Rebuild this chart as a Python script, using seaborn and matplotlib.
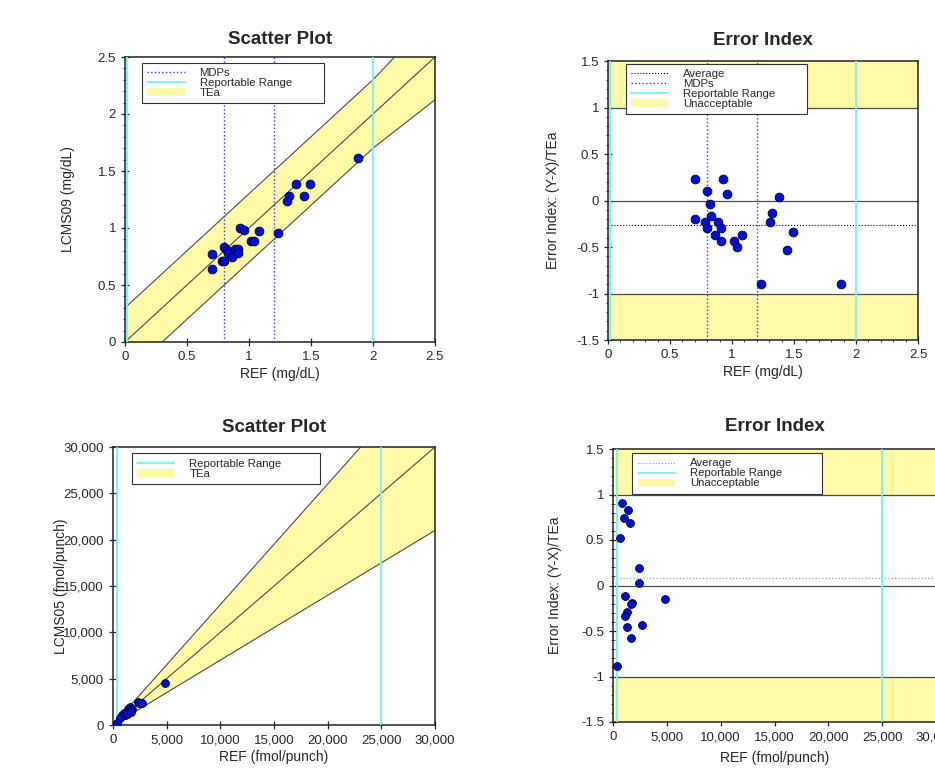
import numpy as np
import matplotlib
matplotlib.use("Agg")
import matplotlib.pyplot as plt
import seaborn as sns
from matplotlib.ticker import FuncFormatter, MultipleLocator
from matplotlib.lines import Line2D
from matplotlib.patches import Patch

# --- data ---
# top pair: LCMS09 vs REF (mg/dL)
ref_mg = [0.70, 0.93, 0.80, 0.96, 0.82, 1.38, 0.70, 0.83, 0.78, 0.89, 0.80, 0.91,
          0.86, 0.91, 1.02, 1.04, 1.08, 1.32, 1.31, 1.49, 1.44, 1.23, 1.88]
lcms09 = [0.77, 1.00, 0.83, 0.98, 0.81, 1.39, 0.64, 0.78, 0.71, 0.82, 0.71, 0.82,
          0.75, 0.78, 0.89, 0.89, 0.97, 1.28, 1.24, 1.39, 1.28, 0.96, 1.61]
# bottom pair: LCMS05 vs REF (fmol/punch)
ref_fmol = [813, 1370, 1060, 1620, 623, 2370, 2400, 1120, 4800, 1780, 1680, 1280,
            1150, 1340, 2710, 1710, 343]
lcms05 = [1033, 1713, 1295, 1955, 720, 2505, 2422, 1080, 4584, 1679, 1579, 1169,
          1033, 1155, 2360, 1412, 252]

tea_abs_mg = 0.3      # absolute TEa (mg/dL)
tea_pct_mg = 0.15     # proportional TEa
tea_pct_fmol = 0.30
mdps_mg = [0.8, 1.2]
rr_mg = [0.015, 2.0]
rr_fmol = [350, 25000]
avg_ei_mg = -0.26
avg_ei_fmol = 0.08

# error index = (Y - X) / TEa
x_mg = np.array(ref_mg)
ei_mg = (np.array(lcms09) - x_mg) / np.maximum(tea_abs_mg, tea_pct_mg * x_mg)
x_fm = np.array(ref_fmol)
ei_fmol = (np.array(lcms05) - x_fm) / (tea_pct_fmol * x_fm)

YELLOW = "#fffaa8"
CYAN = "#6ff5f5"
MDP_BLUE = "#2f3cff"
PT_BLUE = "#0010d8"
LINE_GREY = "#4a4a4a"

sns.set_style("ticks")
plt.rcParams['font.family'] = ['Liberation Sans', 'DejaVu Sans']
plt.rcParams['axes.edgecolor'] = "#222222"
plt.rcParams['axes.linewidth'] = 1.1

fig = plt.figure(figsize=(9.35, 7.69), dpi=100)
W, H = 935, 769


def make_ax(left, top, right, bottom):
    return fig.add_axes([left / W, (H - bottom) / H, (right - left) / W, (bottom - top) / H])


ax_tl = make_ax(125, 57, 435, 342)
ax_tr = make_ax(608, 61, 918, 340)
ax_bl = make_ax(113, 447, 435, 725)
ax_br = make_ax(613, 449, 936, 722)

gfmt = FuncFormatter(lambda v, p: f"{v:g}")
cfmt = FuncFormatter(lambda v, p: f"{v:,.0f}")


def style(ax):
    ax.tick_params(which='major', direction='inout', length=6, width=0.9, labelsize=9.5)
    ax.tick_params(which='minor', direction='inout', length=3, width=0.6)
    for s in ax.spines.values():
        s.set_visible(True)


def legend(ax, handles, labels, x, y):
    leg = ax.legend(handles, labels, loc='upper left', bbox_to_anchor=(x, y, 0.586, 0),
                    mode='expand', borderaxespad=0, fontsize=8.2, handlelength=3.3,
                    handletextpad=1.3, labelspacing=0.0, borderpad=0.45,
                    fancybox=False, framealpha=1, edgecolor='#333333')
    leg.get_frame().set_linewidth(0.8)
    leg.set_zorder(10)


h_avg = Line2D([], [], color='black', ls=':', lw=0.8)
h_mdp = Line2D([], [], color=MDP_BLUE, ls=':', lw=1.0)
h_rr = Line2D([], [], color=CYAN, lw=1.3)
h_fill = Patch(facecolor=YELLOW, edgecolor='none')

# ---- top left: scatter (mg/dL) ----
ax = ax_tl
xs = np.linspace(0, 2.5, 501)
tea = np.maximum(tea_abs_mg, tea_pct_mg * xs)
ax.fill_between(xs, xs - tea, xs + tea, color=YELLOW, lw=0, zorder=1)
for yy in (xs - tea, xs, xs + tea):
    ax.plot(xs, yy, color=LINE_GREY, lw=0.8, zorder=2)
for v in mdps_mg:
    ax.axvline(v, color=MDP_BLUE, ls=':', lw=1.0, zorder=3)
for v in rr_mg:
    ax.axvline(v, color=CYAN, lw=1.3, zorder=3)
sns.scatterplot(x=ref_mg, y=lcms09, ax=ax, color=PT_BLUE, edgecolor='#000033',
                s=40, linewidth=0.6, zorder=5, legend=False)
ax.set_xlim(0, 2.5)
ax.set_ylim(0, 2.5)
ax.xaxis.set_major_locator(MultipleLocator(0.5))
ax.yaxis.set_major_locator(MultipleLocator(0.5))
ax.yaxis.set_minor_locator(MultipleLocator(0.1))
ax.xaxis.set_major_formatter(gfmt)
ax.yaxis.set_major_formatter(gfmt)
style(ax)
ax.set_title("Scatter Plot", fontsize=13.5, fontweight='bold', pad=9)
ax.set_xlabel("REF (mg/dL)", fontsize=10)
ax.set_ylabel("LCMS09 (mg/dL)", fontsize=10)
ax.xaxis.set_label_coords(0.5, -0.088)
ax.yaxis.set_label_coords(-0.161, 0.5)
legend(ax, [h_mdp, h_rr, h_fill], ["MDPs", "Reportable Range", "TEa"], 0.055, 0.979)

# ---- top right: error index (mg/dL) ----
ax = ax_tr
ax.axhspan(1, 1.5, color=YELLOW, lw=0, zorder=1)
ax.axhspan(-1.5, -1, color=YELLOW, lw=0, zorder=1)
for v in (1, 0, -1):
    ax.axhline(v, color=LINE_GREY, lw=0.9, zorder=2)
ax.axhline(avg_ei_mg, color='black', ls=':', lw=0.8, zorder=2)
for v in mdps_mg:
    ax.axvline(v, color=MDP_BLUE, ls=':', lw=1.0, zorder=3)
for v in rr_mg:
    ax.axvline(v, color=CYAN, lw=1.3, zorder=3)
sns.scatterplot(x=ref_mg, y=ei_mg, ax=ax, color=PT_BLUE, edgecolor='#000033',
                s=40, linewidth=0.6, zorder=5, legend=False)
ax.set_xlim(0, 2.5)
ax.set_ylim(-1.5, 1.5)
ax.xaxis.set_major_locator(MultipleLocator(0.5))
ax.xaxis.set_minor_locator(MultipleLocator(0.1))
ax.yaxis.set_major_locator(MultipleLocator(0.5))
ax.yaxis.set_minor_locator(MultipleLocator(0.1))
ax.xaxis.set_major_formatter(gfmt)
ax.yaxis.set_major_formatter(gfmt)
style(ax)
ax.set_title("Error Index", fontsize=13.5, fontweight='bold', pad=11.5)
ax.set_xlabel("REF (mg/dL)", fontsize=10)
ax.set_ylabel("Error Index: (Y-X)/TEa", fontsize=10)
ax.xaxis.set_label_coords(0.5, -0.09)
ax.yaxis.set_label_coords(-0.155, 0.5)
legend(ax, [h_avg, h_mdp, h_rr, h_fill],
       ["Average", "MDPs", "Reportable Range", "Unacceptable"], 0.057, 0.989)

# ---- bottom left: scatter (fmol/punch) ----
ax = ax_bl
xs = np.linspace(0, 30000, 301)
ax.fill_between(xs, xs * (1 - tea_pct_fmol), xs * (1 + tea_pct_fmol), color=YELLOW, lw=0, zorder=1)
for k in (1 - tea_pct_fmol, 1, 1 + tea_pct_fmol):
    ax.plot(xs, xs * k, color=LINE_GREY, lw=0.8, zorder=2)
for v in rr_fmol:
    ax.axvline(v, color=CYAN, lw=1.3, zorder=3)
sns.scatterplot(x=ref_fmol, y=lcms05, ax=ax, color=PT_BLUE, edgecolor='#000033',
                s=32, linewidth=0.6, zorder=5, legend=False)
ax.set_xlim(0, 30000)
ax.set_ylim(0, 30000)
ax.xaxis.set_major_locator(MultipleLocator(5000))
ax.yaxis.set_major_locator(MultipleLocator(5000))
ax.xaxis.set_major_formatter(cfmt)
ax.yaxis.set_major_formatter(cfmt)
style(ax)
ax.set_title("Scatter Plot", fontsize=13.5, fontweight='bold', pad=10.5)
ax.set_xlabel("REF (fmol/punch)", fontsize=10)
ax.set_ylabel("LCMS05 (fmol/punch)", fontsize=10)
ax.xaxis.set_label_coords(0.5, -0.09)
ax.yaxis.set_label_coords(-0.14, 0.5)
legend(ax, [h_rr, h_fill], ["Reportable Range", "TEa"], 0.058, 0.977)

# ---- bottom right: error index (fmol/punch) ----
ax = ax_br
ax.axhspan(1, 1.5, color=YELLOW, lw=0, zorder=1)
ax.axhspan(-1.5, -1, color=YELLOW, lw=0, zorder=1)
for v in (1, 0, -1):
    ax.axhline(v, color=LINE_GREY, lw=0.9, zorder=2)
ax.axhline(avg_ei_fmol, color='#999999', ls=':', lw=0.9, zorder=2)
for v in rr_fmol:
    ax.axvline(v, color=CYAN, lw=1.3, zorder=3)
sns.scatterplot(x=ref_fmol, y=ei_fmol, ax=ax, color=PT_BLUE, edgecolor='#000033',
                s=32, linewidth=0.6, zorder=5, legend=False)
ax.set_xlim(0, 30000)
ax.set_ylim(-1.5, 1.5)
ax.xaxis.set_major_locator(MultipleLocator(5000))
ax.yaxis.set_major_locator(MultipleLocator(0.5))
ax.yaxis.set_minor_locator(MultipleLocator(0.1))
ax.xaxis.set_major_formatter(cfmt)
ax.yaxis.set_major_formatter(gfmt)
style(ax)
ax.set_title("Error Index", fontsize=13.5, fontweight='bold', pad=13)
ax.set_xlabel("REF (fmol/punch)", fontsize=10)
ax.set_ylabel("Error Index: (Y-X)/TEa", fontsize=10)
ax.xaxis.set_label_coords(0.5, -0.106)
ax.yaxis.set_label_coords(-0.159, 0.5)
legend(ax, [h_avg, h_rr, h_fill], ["Average", "Reportable Range", "Unacceptable"], 0.06, 0.984)
ax.get_legend().legend_handles[0].set_color('#999999')

fig.savefig("out.png", dpi=100)
